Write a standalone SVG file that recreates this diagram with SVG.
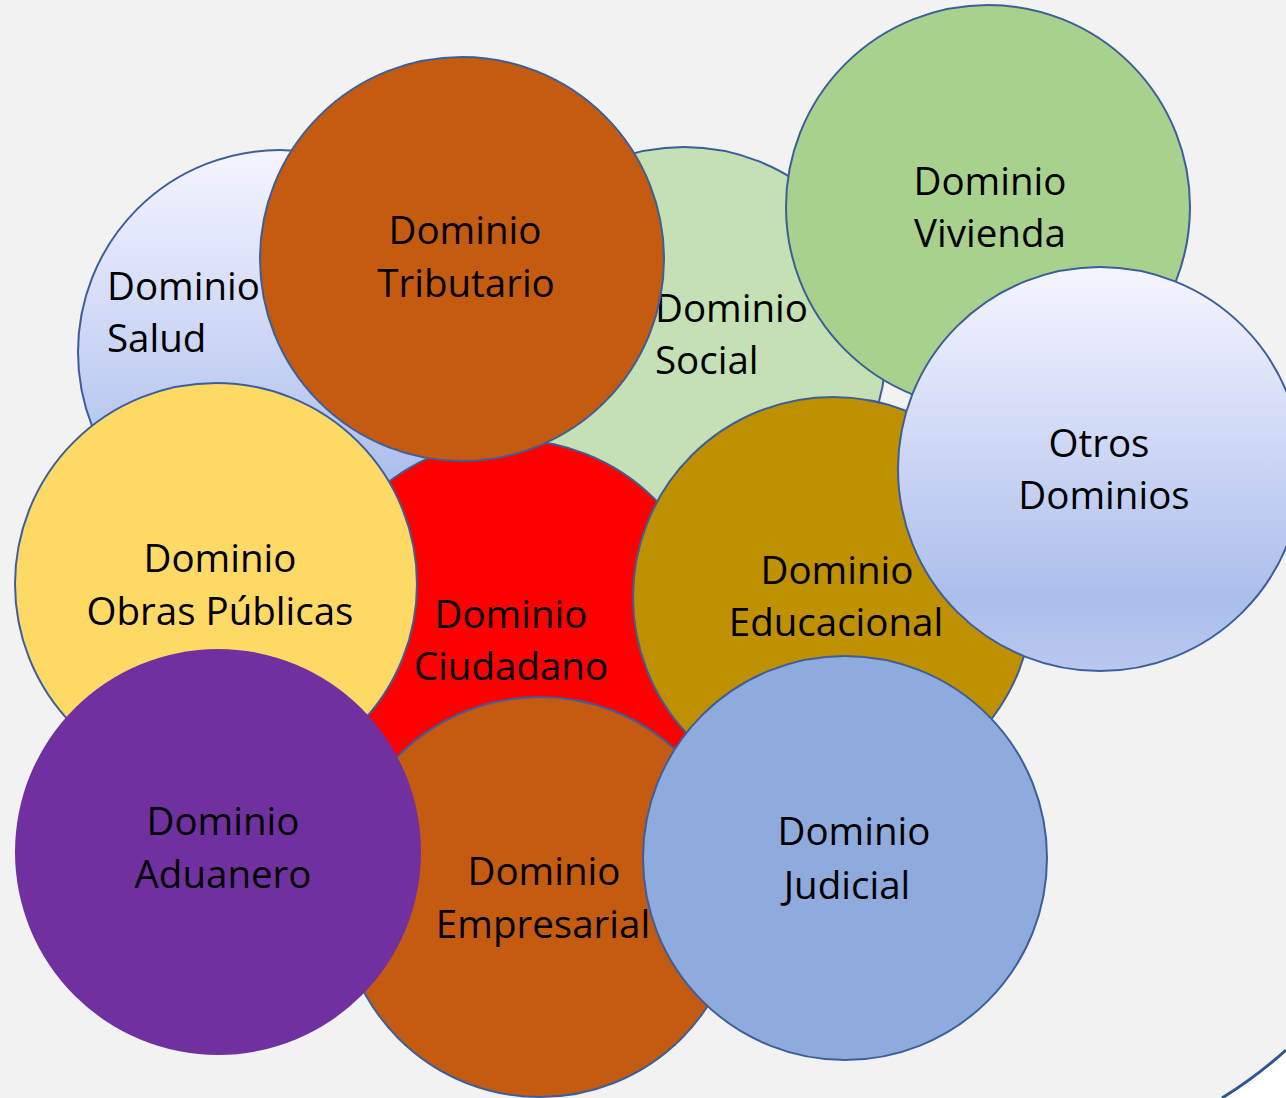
<svg xmlns="http://www.w3.org/2000/svg" width="1286" height="1098" viewBox="0 0 1286 1098">
  <defs>
    <linearGradient id="lightBlue" x1="0" y1="0" x2="0" y2="1">
      <stop offset="0" stop-color="#F5F5FF"/>
      <stop offset="0.5" stop-color="#C9D4F4"/>
      <stop offset="0.82" stop-color="#ABBEEC"/>
      <stop offset="1" stop-color="#B9C8F0"/>
    </linearGradient>
    <style>
      .c { stroke: #3C5F9A; stroke-width: 2; }
      .t { font-family: "Open Sans", "Noto Sans", "DejaVu Sans", sans-serif; font-size: 38.5px; fill: #000; }
      .m { text-anchor: middle; }
    </style>
  </defs>

  <rect x="0" y="0" width="1286" height="1098" fill="#FFFFFF"/>
  <path d="M0,0 H1286 V1050 Q1256,1077 1222,1098 H0 Z" fill="#F2F2F2"/>
  <path d="M1286,1050 Q1256,1077 1222,1098" fill="none" stroke="#2F5597" stroke-width="3"/>

  <g id="connectors"></g>

  <g id="salud">
    <circle class="c" cx="280" cy="352" r="202" fill="url(#lightBlue)"/>
    <text class="t" x="107" y="300">Dominio</text>
    <text class="t" x="107" y="352">Salud</text>
  </g>
  <g id="social">
    <circle class="c" cx="684" cy="349" r="202" fill="#C5E0B4"/>
    <text class="t" x="655" y="322">Dominio</text>
    <text class="t" x="655" y="374">Social</text>
  </g>
  <g id="ciudadano">
    <circle class="c" cx="512" cy="642" r="202" fill="#FF0000"/>
    <text class="t m" x="511" y="628">Dominio</text>
    <text class="t m" x="511" y="680">Ciudadano</text>
  </g>
  <g id="tributario">
    <circle class="c" cx="462" cy="259" r="202" fill="#C55A11"/>
    <text class="t m" x="465" y="244">Dominio</text>
    <text class="t m" x="466" y="297">Tributario</text>
  </g>
  <g id="vivienda">
    <circle class="c" cx="988" cy="207" r="202" fill="#A9D18E"/>
    <text class="t m" x="990" y="195">Dominio</text>
    <text class="t m" x="990" y="247">Vivienda</text>
  </g>
  <g id="educacional">
    <circle class="c" cx="833" cy="597" r="200" fill="#BF9000"/>
    <text class="t m" x="837" y="584">Dominio</text>
    <text class="t m" x="836" y="636">Educacional</text>
  </g>
  <g id="otros">
    <circle class="c" cx="1100" cy="469" r="202" fill="url(#lightBlue)"/>
    <text class="t m" x="1099" y="457">Otros</text>
    <text class="t m" x="1104" y="509">Dominios</text>
  </g>
  <g id="obras">
    <circle class="c" cx="216" cy="584" r="201" fill="#FFD966"/>
    <text class="t m" x="220" y="572">Dominio</text>
    <text class="t m" x="220" y="625">Obras Públicas</text>
  </g>
  <g id="empresarial">
    <circle class="c" cx="540" cy="897" r="200" fill="#C55A11"/>
    <text class="t m" x="544" y="885">Dominio</text>
    <text class="t m" x="543" y="938">Empresarial</text>
  </g>
  <g id="aduanero">
    <circle cx="218" cy="852" r="203" fill="#7030A0"/>
    <text class="t m" x="223" y="835">Dominio</text>
    <text class="t m" x="223" y="888">Aduanero</text>
  </g>
  <g id="judicial">
    <circle class="c" cx="845" cy="858" r="202" fill="#8FAADC"/>
    <text class="t m" x="854" y="845">Dominio</text>
    <text class="t m" x="847" y="899">Judicial</text>
  </g>
</svg>
